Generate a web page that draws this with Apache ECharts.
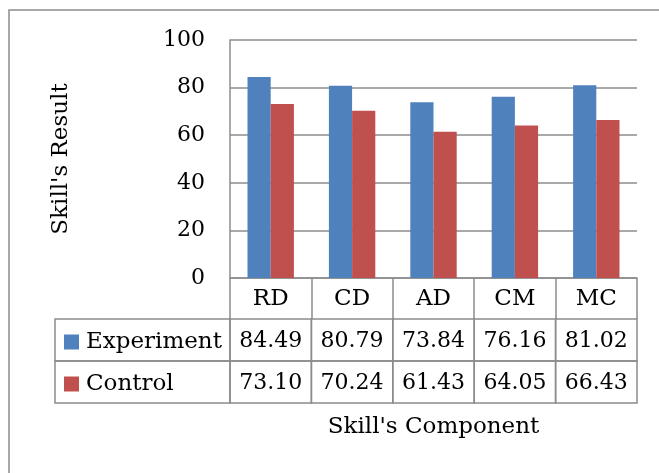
<!DOCTYPE html>
<html>
<head>
<meta charset="utf-8">
<script src="https://cdn.jsdelivr.net/npm/echarts@6/dist/echarts.min.js"></script>
<style>
  html, body { margin: 0; padding: 0; background: #fff; }
  #chart { width: 659px; height: 473px; }
</style>
</head>
<body>
<div id="chart"></div>
<script>
  var categories = ['RD', 'CD', 'AD', 'CM', 'MC'];
  var experiment = [84.49, 80.79, 73.84, 76.16, 81.02];
  var control = [73.10, 70.24, 61.43, 64.05, 66.43];
  var seriesNames = ['Experiment', 'Control'];
  var yTicks = [0, 20, 40, 60, 80, 100];

  var colors = ['#4F81BD', '#C0504D'];
  var lineColor = '#8c8c8c';
  var font = 'DejaVu Serif';
  var headerH = 41;   // category row under the axis
  var rowH = 42;      // data rows
  var legendColW = 175;

  var rows = [experiment, control];

  var chart = echarts.init(document.getElementById('chart'));
  chart.setOption({
    animation: false,
    color: colors,
    textStyle: { fontFamily: font, color: '#000' },
    grid: { left: 230, top: 40, right: 22, bottom: 195 },
    graphic: [{
      type: 'rect',
      shape: { x: 9, y: 10, width: 720, height: 520 },
      style: { fill: 'none', stroke: lineColor, lineWidth: 1.5 },
      silent: true
    }],
    legend: {
      data: seriesNames,
      orient: 'vertical',
      left: 64,
      top: 321,
      padding: 0,
      itemGap: 0,
      itemWidth: 15,
      itemHeight: 15,
      icon: 'rect',
      textStyle: { fontFamily: font, fontSize: 23, color: '#000', lineHeight: rowH, padding: [0, 0, 0, 2] }
    },
    xAxis: {
      type: 'category',
      data: categories,
      name: "Skill's Component",
      nameLocation: 'middle',
      nameGap: 138,
      nameTextStyle: { fontFamily: font, fontSize: 23, color: '#000' },
      axisLine: { show: true, lineStyle: { color: lineColor, width: 1.5 } },
      axisTick: { show: true, length: headerH, lineStyle: { color: lineColor, width: 1.5 } },
      axisLabel: { margin: 10, fontFamily: font, fontSize: 23, color: '#000' }
    },
    yAxis: {
      type: 'value',
      min: 0,
      max: 100,
      interval: 20,
      name: "Skill's Result",
      nameLocation: 'middle',
      nameGap: 157,
      nameTextStyle: { fontFamily: font, fontSize: 23, color: '#000' },
      axisLine: { show: true, lineStyle: { color: lineColor, width: 1.5 } },
      axisTick: { show: false },
      axisLabel: {
        margin: 25, fontFamily: font, fontSize: 22, color: '#000',
        formatter: function (v) { return yTicks.indexOf(v) >= 0 ? String(v) : ''; }
      },
      splitLine: { show: true, lineStyle: { color: lineColor, width: 1.5 } }
    },
    series: [{
      name: seriesNames[0],
      type: 'bar',
      barGap: 0,
      barCategoryGap: '43%',
      data: experiment
    }, {
      name: seriesNames[1],
      type: 'bar',
      barGap: 0,
      barCategoryGap: '43%',
      data: control
    }, {
      // data table under the axis
      name: 'table',
      type: 'custom',
      clip: false,
      silent: true,
      z: 5,
      data: categories.map(function (c, i) { return [i, 0]; }),
      renderItem: function (params, api) {
        var i = params.dataIndex;
        var p = api.coord([i, 0]);
        var band = api.size([1, 0])[0];
        var x0 = p[0] - band / 2;
        var top = p[1] + headerH;
        var children = [];
        rows.forEach(function (vals, r) {
          var y = top + r * rowH;
          children.push({
            type: 'rect',
            shape: { x: x0, y: y, width: band, height: rowH },
            style: { fill: 'none', stroke: lineColor, lineWidth: 1.5 }
          });
          children.push({
            type: 'text',
            style: {
              x: p[0], y: y + rowH / 2 + 1,
              text: vals[i].toFixed(2),
              font: '22px "' + font + '"',
              fill: '#000',
              align: 'center',
              verticalAlign: 'middle'
            }
          });
          if (i === 0) {
            children.push({
              type: 'rect',
              shape: { x: x0 - legendColW, y: y, width: legendColW, height: rowH },
              style: { fill: 'none', stroke: lineColor, lineWidth: 1.5 }
            });
          }
        });
        return { type: 'group', children: children };
      }
    }]
  });
</script>
</body>
</html>
